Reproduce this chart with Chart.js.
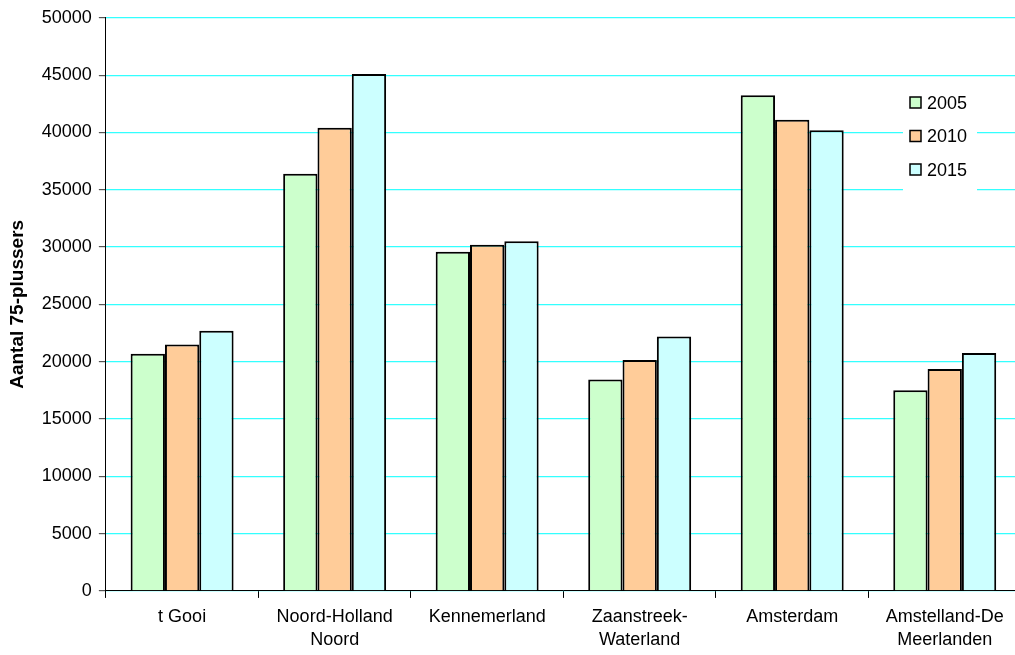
<!DOCTYPE html>
<html>
<head>
<meta charset="utf-8">
<script src="https://cdn.jsdelivr.net/npm/chart.js@4/dist/chart.umd.min.js"></script>
<style>
    html, body { margin: 0; padding: 0; background: #fff; overflow: hidden; }
    #wrap { width: 1026px; height: 662px; }
</style>
</head>
<body>
<div id="wrap"><canvas id="regioChart"></canvas></div>
<script>
const regions = [["t Gooi"], ["Noord-Holland", "Noord"], ["Kennemerland"], ["Zaanstreek-", "Waterland"], ["Amsterdam"], ["Amstelland-De", "Meerlanden"]];
const years = ["2005", "2010", "2015"];
const values2005 = [20700, 36400, 29600, 18450, 43250, 17500];
const values2010 = [21500, 40400, 30200, 20150, 41100, 19350];
const values2015 = [22700, 45100, 30500, 22200, 40200, 20750];
const yTicks = [0, 5000, 10000, 15000, 20000, 25000, 30000, 35000, 40000, 45000, 50000];
const barColors = ["#CCFFCC", "#FFCC99", "#CCFFFF"];
const axisTitle = "Aantal 75-plussers";
const fontName = "'Liberation Sans', Arial, sans-serif";

// legend drawn by hand, white box over the grid like the original
const boxLegend = {
    id: "boxLegend",
    afterDraw(chart) {
        var ctx = chart.ctx;
        ctx.save();
        ctx.fillStyle = "#fff";
        ctx.fillRect(903, 86, 74, 106);
        chart.data.datasets.forEach(function(ds, i) {
            var y = 103 + i * 33.5;
            ctx.fillStyle = ds.backgroundColor;
            ctx.fillRect(910, y - 6, 11, 11);
            ctx.strokeStyle = "#000";
            ctx.lineWidth = 1.5;
            ctx.strokeRect(910, y - 6, 11, 11);
            ctx.fillStyle = "#000";
            ctx.font = "18px " + fontName;
            ctx.textBaseline = "middle";
            ctx.fillText(ds.label, 927, y + 1);
        });
        ctx.restore();
    }
};

window.onload = function() {
    var context = document.getElementById("regioChart").getContext("2d");
    var series = [values2005, values2010, values2015];
    new Chart(context, {
        type: "bar",
        data: {
            labels: regions,
            datasets: years.map(function(year, i) {
                return {
                    label: year,
                    data: series[i],
                    backgroundColor: barColors[i],
                    borderColor: "#000",
                    borderWidth: 2,
                    categoryPercentage: 0.675,
                    barPercentage: 1
                };
            })
        },
        options: {
            responsive: true,
            maintainAspectRatio: false,
            animation: false,
            layout: { padding: { top: 7, right: 5, left: 6, bottom: 2 } },
            plugins: { legend: { display: false }, tooltip: { enabled: false } },
            scales: {
                x: {
                    grid: { drawOnChartArea: false, tickLength: 7, tickColor: "#000", lineWidth: 1 },
                    border: { color: "#000", width: 1 },
                    ticks: { color: "#000", font: { family: fontName, size: 18, lineHeight: 1.28 }, maxRotation: 0, padding: 8 }
                },
                y: {
                    min: 0,
                    max: 50000,
                    afterBuildTicks: function(axis) {
                        axis.ticks = yTicks.map(function(v) { return { value: v }; });
                    },
                    grid: { color: "#33FFFF", lineWidth: 1.2, tickLength: 7, tickColor: "#555" },
                    border: { color: "#000", width: 1 },
                    ticks: {
                        color: "#000",
                        font: { family: fontName, size: 18 },
                        padding: 7,
                        callback: function(v) { return String(v); }
                    },
                    title: {
                        display: true,
                        text: axisTitle,
                        color: "#000",
                        font: { family: fontName, size: 19, weight: "bold" },
                        padding: { top: 0, bottom: 6 }
                    }
                }
            }
        },
        plugins: [boxLegend]
    });
};
</script>
</body>
</html>
